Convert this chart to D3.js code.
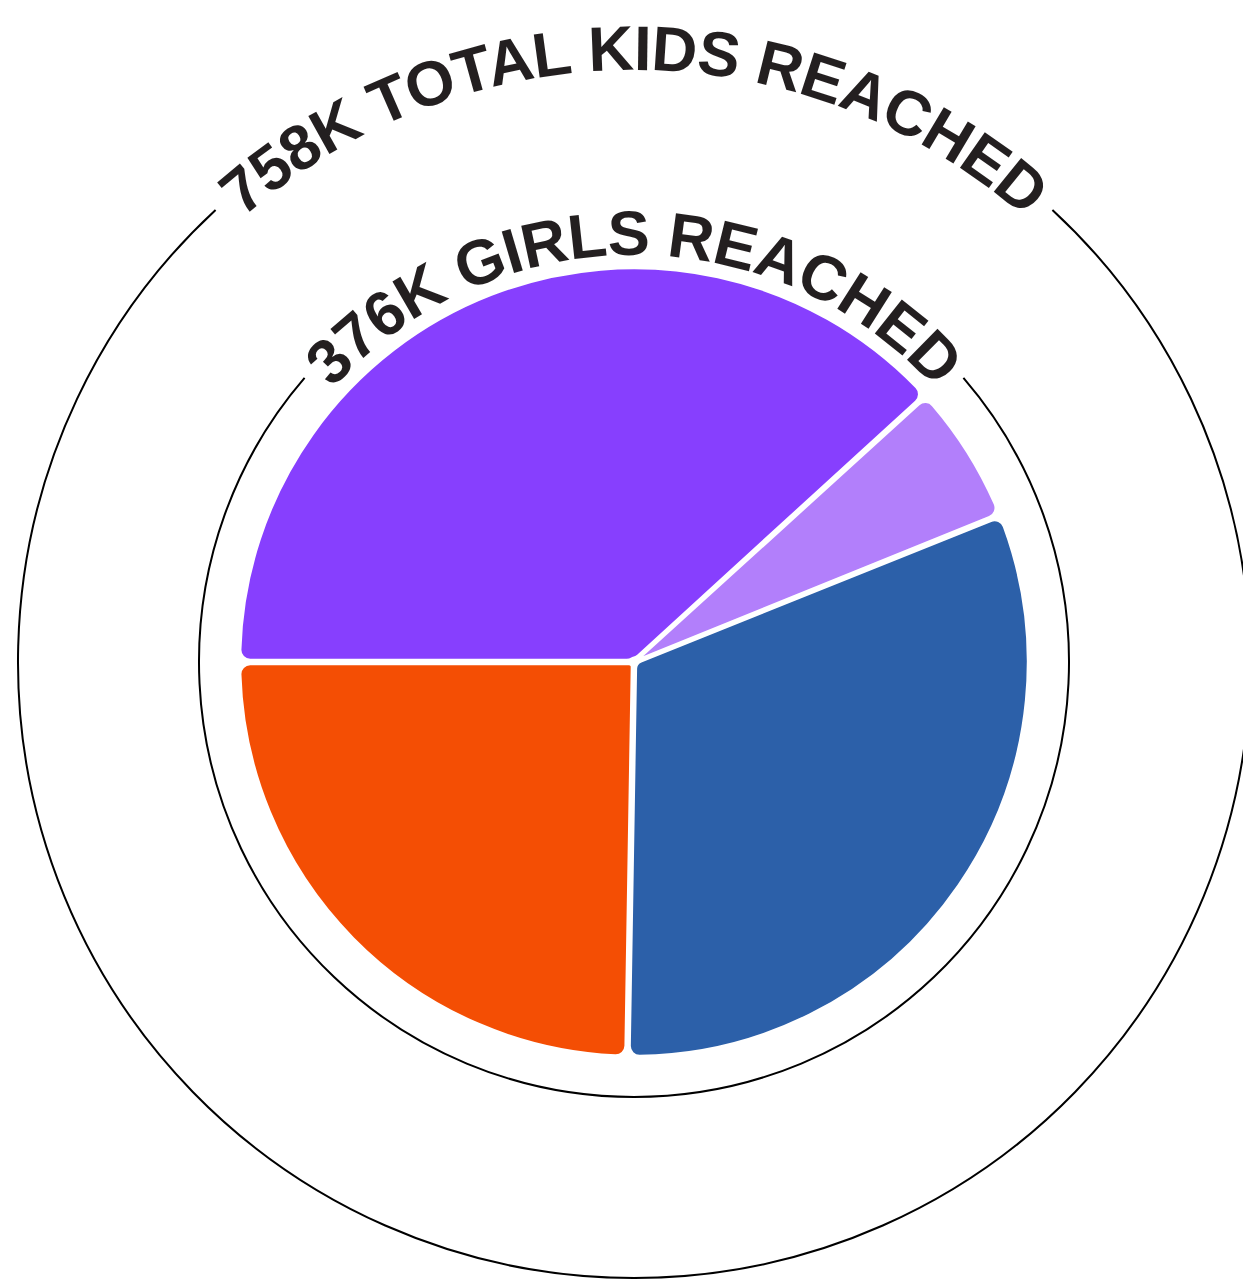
<!DOCTYPE html>
<html lang="en">
<head>
    <meta charset="UTF-8">
    <title>kids reached</title>
    <script src="https://d3js.org/d3.v7.min.js"></script>
    <style>
        body { margin: 0; background: #fff; }
    </style>
</head>
<body>
<div id="fig"></div>
<script>
    // slices of the 376K girls (in K), clockwise from 9 o'clock
    let categories = ["a", "b", "c", "d"]
    let values = [144, 21, 118, 93]
    let colors = ["#873ffe", "#b27ffb", "#2c60a9", "#f44e04"]
    let outerLabel = "758K TOTAL KIDS REACHED"
    let innerLabel = "376K GIRLS REACHED"

    let w = 1243, h = 1279
    let cx = 634, cy = 662
    let pieR = 393, innerRingR = 435, outerRingR = 616

    let svg = d3.select("#fig").append("svg")
        .attr("width", w)
        .attr("height", h)

    let g = svg.append("g").attr("transform", `translate(${cx},${cy})`)

    let pie = d3.pie().sort(null)
        .startAngle(-Math.PI / 2)
        .endAngle(Math.PI * 1.5)
        .padAngle(0.01)
    let arc = d3.arc().innerRadius(4).outerRadius(pieR + 1).cornerRadius(10)

    let data = categories.map(function (c, i) { return {key: c, value: values[i], color: colors[i]} })
    g.selectAll("path.slice")
        .data(pie.value(function (d) { return d.value })(data))
        .join("path")
        .attr("class", "slice")
        .attr("d", arc)
        .attr("fill", function (d) { return d.data.color })
        .attr("stroke", "#fff")
        .attr("stroke-width", 2.5)
        .attr("stroke-linejoin", "round")

    // ring with a gap at the top where the label sits
    function ringLabel(id, label, ringR, textR) {
        g.append("path")
            .attr("id", id)
            .attr("d", `M${-textR},0 A${textR},${textR} 0 0 1 ${textR},0`)
            .attr("fill", "none")
        let t = g.append("text")
            .attr("font-family", "Liberation Sans, Arial, Helvetica, sans-serif")
            .attr("font-weight", "bold")
            .attr("font-size", 63)
            .attr("letter-spacing", -0.6)
            .attr("fill", "#231f20")
            .append("textPath")
            .attr("href", "#" + id)
            .attr("startOffset", "50%")
            .attr("text-anchor", "middle")
            .text(label)
        let len = t.node().getComputedTextLength()
        let half = len / 2 / textR + 0.025
        let ring = d3.arc().innerRadius(ringR).outerRadius(ringR)
            .startAngle(half).endAngle(Math.PI * 2 - half)
        g.insert("path", "text")
            .attr("d", ring())
            .attr("fill", "none")
            .attr("stroke", "#000")
            .attr("stroke-width", 2)
    }
    ringLabel("outerArc", outerLabel, outerRingR, 592)
    ringLabel("innerArc", innerLabel, innerRingR, 407)
</script>
</body>
</html>
